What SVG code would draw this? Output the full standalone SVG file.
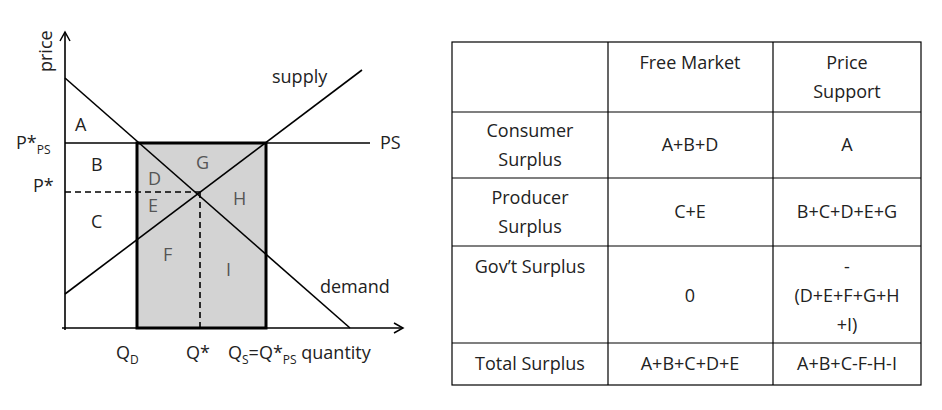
<svg xmlns="http://www.w3.org/2000/svg" width="942" height="410" viewBox="0 0 942 410">
<defs><style>
text{font-family:"Open Sans","Liberation Sans",sans-serif;font-size:18px;fill:#222}
.g{fill:#555}
.l{stroke:#000;stroke-width:1.6;fill:none}
.t{text-anchor:middle}
</style>
<marker id="ar" markerWidth="12" markerHeight="12" refX="10" refY="6" orient="auto" markerUnits="userSpaceOnUse"><path d="M1,1 L10,6 L1,11" fill="none" stroke="#000" stroke-width="1.5"/></marker></defs>
<rect width="942" height="410" fill="#fff"/>
<g id="surplus-box"><rect x="137" y="143" width="129" height="185" fill="#d3d3d3" stroke="#000" stroke-width="3"/></g>
<g id="connectors">
<line class="l" x1="65" y1="330" x2="65" y2="32" marker-end="url(#ar)"/>
<line class="l" x1="62" y1="328" x2="403" y2="328" marker-end="url(#ar)"/>
<line class="l" x1="65" y1="78" x2="350" y2="328"/>
<line class="l" x1="65" y1="294" x2="362" y2="70"/>
<line class="l" x1="65" y1="143" x2="370" y2="143"/>
<line class="l" x1="65" y1="192" x2="200" y2="192" stroke-dasharray="6,4"/>
<line class="l" x1="200" y1="192" x2="200" y2="328" stroke-dasharray="6,4"/>
</g>
<g id="labels">
<text x="52" y="72" transform="rotate(-90 52 72)">price</text>
<text x="272" y="83">supply</text>
<text x="380" y="149">PS</text>
<text x="320" y="293">demand</text>
<text x="16" y="149">P*<tspan font-size="12" dy="5">PS</tspan></text>
<text x="33" y="192">P*</text>
<text x="75" y="131">A</text><text x="91" y="171">B</text><text x="91" y="228">C</text>
<text class="g" x="148" y="185">D</text><text class="g" x="148" y="212">E</text>
<text class="g" x="196" y="169">G</text><text class="g" x="233" y="205">H</text>
<text class="g" x="163" y="261">F</text><text class="g" x="226" y="276">I</text>
<text x="116" y="359">Q<tspan font-size="12" dy="5">D</tspan></text>
<text x="186" y="359">Q*</text>
<text x="228" y="359">Q<tspan font-size="12" dy="5">S</tspan><tspan dy="-5">=Q*</tspan><tspan font-size="12" dy="5">PS</tspan><tspan dy="-5"> quantity</tspan></text>
</g>
<g id="table">
<rect x="452" y="42" width="469" height="343" fill="none" stroke="#000" stroke-width="1.2"/>
<path d="M608 42V385M773 42V385M452 112H921M452 178H921M452 246H921M452 343H921" stroke="#000" stroke-width="1.2"/>
<text class="t" x="690" y="69">Free Market</text>
<text class="t" x="847" y="69">Price</text><text class="t" x="847" y="98">Support</text>
<text class="t" x="530" y="137">Consumer</text><text class="t" x="530" y="166">Surplus</text>
<text class="t" x="690" y="151">A+B+D</text><text class="t" x="847" y="151">A</text>
<text class="t" x="530" y="204">Producer</text><text class="t" x="530" y="233">Surplus</text>
<text class="t" x="690" y="218">C+E</text><text class="t" x="847" y="218">B+C+D+E+G</text>
<text class="t" x="530" y="273">Gov’t Surplus</text>
<text class="t" x="690" y="302">0</text>
<text class="t" x="847" y="273">-</text><text class="t" x="847" y="302">(D+E+F+G+H</text><text class="t" x="847" y="331">+I)</text>
<text class="t" x="530" y="370">Total Surplus</text>
<text class="t" x="690" y="370">A+B+C+D+E</text><text class="t" x="847" y="370">A+B+C-F-H-I</text>
</g>
</svg>
